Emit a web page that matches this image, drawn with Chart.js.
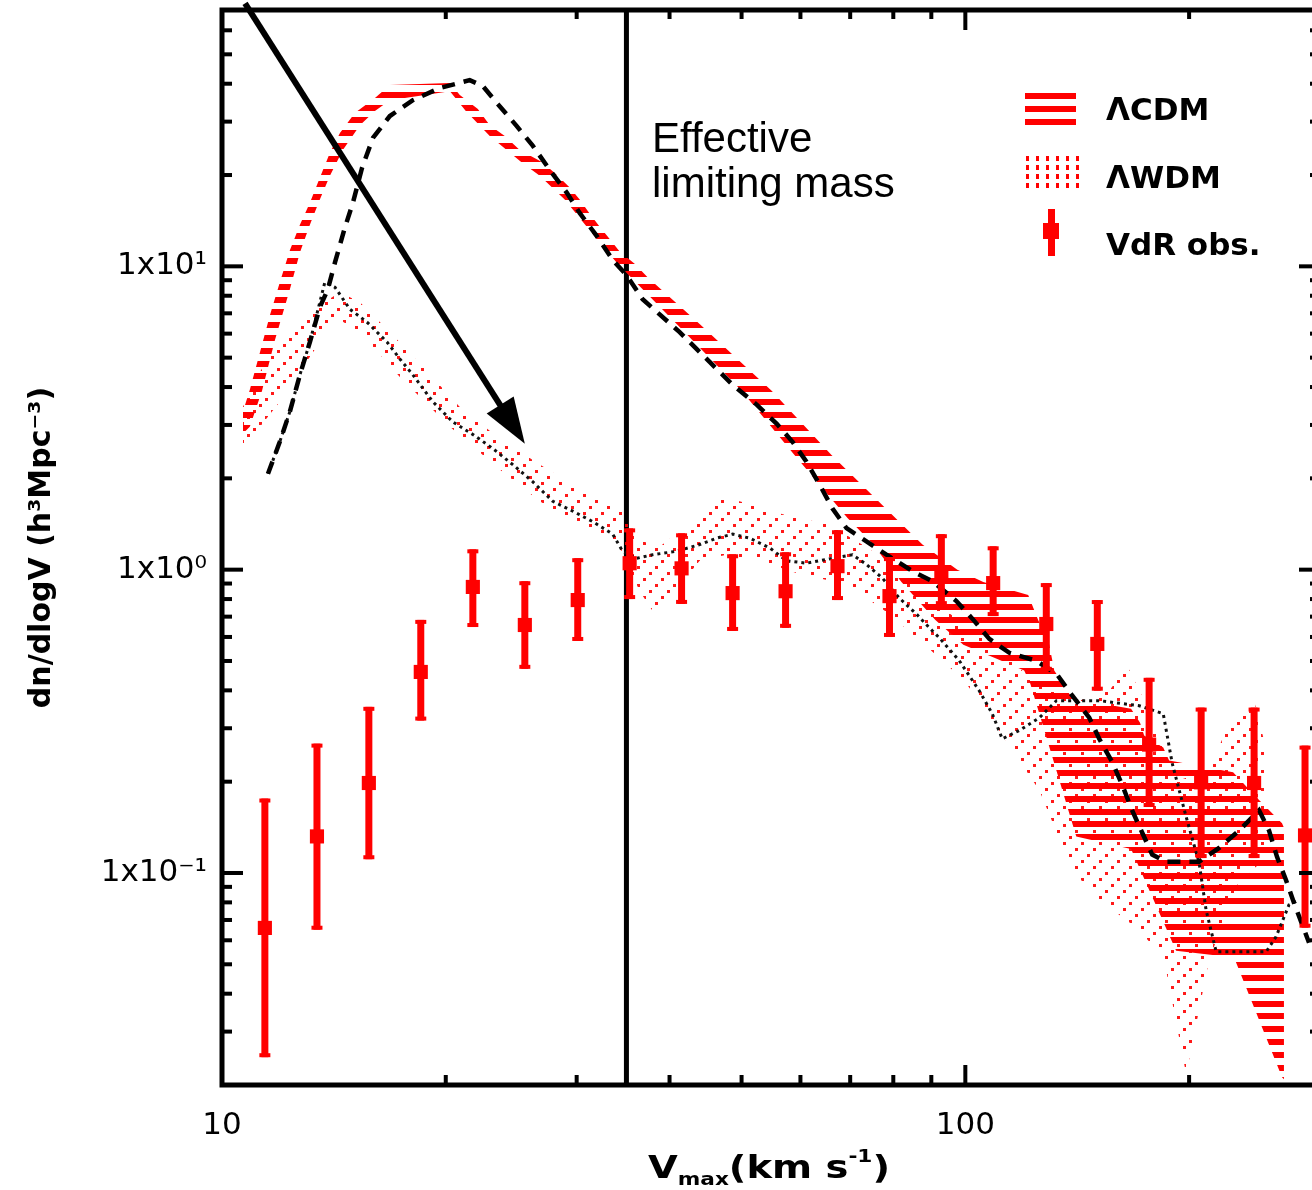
<!DOCTYPE html>
<html>
<head>
<meta charset="utf-8">
<script src="https://cdn.jsdelivr.net/npm/chart.js@4.4.0/dist/chart.umd.min.js"></script>
<style>
html, body { margin:0; padding:0; background:#fff; overflow:hidden; }
#caixa { width:1312px; height:1190px; overflow:hidden; }
</style>
</head>
<body>
<div id="caixa"><canvas id="grafico" width="1330" height="1190"></canvas></div>
<script>
// ---- dados (V em km/s, n em h^3 Mpc^-3) ----

// faixa LCDM (limite superior e inferior)
var cdmSupV = [10.67,10.90,11.25,11.60,11.96,12.34,12.73,13.13,13.54,13.97,14.41,15.09,16.06,16.82,20.26,20.89,22.09,22.92,24.01,25.15,27.01,28.29,29.36,30.28,31.24,32.22,33.23,34.27,35.9,37.37,43.91,54.88,66.06,80.53,87.55,97.55,105.7,121.5,125.3,129.7,131.7,139.3,167.1,171.8,174.0,184.6,188.0,229.2,246.1,266.7,268.3];
var cdmSupN = [3.32,3.92,5.22,6.90,8.85,11.3,13.7,16.2,19.6,23.7,27.5,32.0,35.9,39.6,40.2,36.7,33.0,29.2,26.9,24.2,22.0,19.9,18.2,16.6,14.9,13.5,12.3,11.2,10.2,9.20,6.45,3.89,2.39,1.48,1.21,1.00,0.910,0.825,0.683,0.565,0.465,0.376,0.348,0.313,0.284,0.259,0.235,0.215,0.178,0.146,0.141];
var cdmInfV = [10.67,10.90,11.32,11.78,12.34,12.73,13.13,13.54,13.97,14.54,15.33,16.06,16.82,20.26,21.28,22.92,25.31,26.76,28.91,31.92,34.06,41.27,50.00,58.90,69.42,74.99,82.04,91.13,99.38,110.4,120.0,122.3,141.0,167.1,192.1,229.9,266.7,268.3];
var cdmInfN = [2.81,2.96,3.89,5.71,8.40,11.1,13.7,16.6,19.9,24.2,29.2,32.5,35.3,37.8,32.5,26.9,22.0,19.9,16.6,12.3,10.2,6.31,3.89,2.39,1.48,1.22,0.910,0.683,0.565,0.508,0.465,0.421,0.132,0.120,0.0554,0.0526,0.0212,0.0209];

// faixa LWDM
var wdmSupV = [10.67,11.25,11.96,12.73,13.54,14.41,15.33,16.82,18.46,20.89,23.64,26.76,30.28,34.27,36.80,38.79,42.56,46.71,49.69,58.00,65.65,68.78,74.30,86.75,98.15,111.1,125.8,142.3,156.2,165.1,176.7,193.9,212.8,228.5,244.6,252.3];
var wdmSupN = [3.44,4.49,5.63,6.55,7.45,8.22,7.62,6.07,4.77,3.44,2.70,2.22,1.84,1.62,1.24,1.19,1.42,1.72,1.68,1.50,1.41,1.31,1.17,0.850,0.678,0.540,0.414,0.370,0.399,0.482,0.343,0.202,0.218,0.330,0.370,0.273];
var wdmInfV = [10.67,11.25,11.96,12.73,13.54,14.41,15.33,17.35,20.26,23.64,26.76,30.28,34.27,36.46,38.19,40.38,43.91,47.73,52.88,59.82,69.21,79.04,89.46,99.70,111.1,125.8,139.3,151.4,171.4,185.1,198.2,212.8,233.5,252.3];
var wdmInfN = [2.51,2.96,3.58,4.49,5.63,6.65,6.07,4.32,2.96,2.14,1.68,1.39,1.19,0.850,0.714,0.831,1.07,1.12,1.07,0.967,0.896,0.714,0.548,0.430,0.295,0.187,0.102,0.0815,0.0650,0.0518,0.0217,0.0518,0.0948,0.110];

// curva preta tracejada (CDM)
var tracoV = [11.53,11.96,12.34,12.73,13.13,13.54,13.88,14.19,14.63,15.00,15.43,15.96,16.82,18.06,19.63,21.54,22.43,23.42,24.92,26.18,27.60,29.09,30.28,31.92,33.54,35.03,36.80,41.27,45.29,48.62,52.39,55.72,58.54,61.13,63.65,66.27,69.21,73.61,78.31,84.89,90.29,97.26,102.8,107.7,114.6,124.5,132.6,139.3,146.8,151.4,157.6,162.6,167.6,172.9,178.4,186.3,206.3,219.5,233.5,248.4,256.2,262.6,270.0,276.8,290.0];
var tracoN = [2.07,2.64,3.32,4.39,5.63,7.33,8.40,10.3,13.4,16.2,21.1,26.5,31.3,35.3,38.7,41.1,39.3,34.6,29.0,25.0,20.8,17.5,15.0,12.6,10.5,9.34,7.79,6.07,4.84,4.07,3.50,3.03,2.64,2.27,1.91,1.59,1.37,1.24,1.12,0.989,0.916,0.788,0.678,0.591,0.532,0.501,0.454,0.384,0.325,0.277,0.232,0.195,0.161,0.136,0.115,0.109,0.109,0.121,0.138,0.161,0.138,0.113,0.0948,0.0797,0.0589];

// curva preta pontilhada (WDM)
var pontoV = [11.53,11.96,12.34,12.73,13.13,13.54,13.75,14.19,14.86,15.67,16.67,17.35,18.06,19.21,20.44,21.75,23.13,24.61,26.18,27.86,29.64,31.53,33.54,34.59,36.13,37.96,40.90,43.91,46.28,48.62,51.27,54.55,57.46,61.13,66.27,70.49,73.61,77.34,81.52,85.94,89.46,92.28,98.15,104.4,108.7,112.1,118.2,125.8,132.6,151.4,171.4,184.6,189.8,198.2,206.3,210.8,217.5,253.9,261.8,272.5,281.1];
var pontoN = [2.07,2.64,3.32,4.39,5.63,7.62,8.85,8.53,7.22,6.55,5.63,4.95,4.39,3.58,3.07,2.79,2.51,2.22,1.95,1.68,1.56,1.44,1.31,1.15,1.09,1.12,1.15,1.21,1.27,1.31,1.27,1.18,1.07,1.05,1.09,1.12,1.04,0.938,0.806,0.714,0.643,0.596,0.501,0.399,0.335,0.277,0.295,0.325,0.370,0.370,0.356,0.335,0.230,0.153,0.108,0.0755,0.0550,0.0550,0.0616,0.0785,0.0815];

// observacoes VdR com barras de erro
var obsV  = [11.42,13.42,15.76,18.51,21.75,25.55,30.10,35.35,41.52,48.63,57.30,67.30,79.06,92.84,109.0,128.5,150.5,176.7,207.6,244.6,286.4];
var obsN  = [0.0659,0.132,0.198,0.460,0.877,0.657,0.794,1.05,1.01,0.837,0.849,1.027,0.818,0.959,0.903,0.662,0.569,0.265,0.199,0.198,0.133];
var obsAl = [0.176,0.267,0.353,0.683,1.167,0.916,1.091,1.368,1.318,1.124,1.141,1.349,1.10,1.309,1.194,0.903,0.794,0.440,0.351,0.351,0.263];
var obsBx = [0.0247,0.065,0.111,0.318,0.647,0.471,0.582,0.80,0.771,0.628,0.643,0.794,0.600,0.764,0.703,0.464,0.399,0.165,0.112,0.112,0.066];

// linha vertical da massa limite e seta
var limiteV = 35.0;
var setaIni = [10.74, 73.6];
var setaFim = [25.55, 2.60];

// eixos
var xMin = 10, xMax = 300, yMin = 0.02, yMax = 70;
var xMaiores = [10, 100];
var xRotulos = ['10', '100'];
var xMenores = [20,30,40,50,60,70,80,90,200];
var yMaiores = [0.1, 1, 10];
var yRotulos = ['1x10\u207B\u00B9', '1x10\u2070', '1x10\u00B9'];
var yMenores = [0.02,0.03,0.04,0.05,0.06,0.07,0.08,0.09,0.2,0.3,0.4,0.5,0.6,0.7,0.8,0.9,2,3,4,5,6,7,8,9,20,30,40,50,60];

var VERMELHO = '#ff0000';
var FONTE = '"DejaVu Sans", sans-serif';

function pontos(xs, ys){
  var lista = [];
  for (var i = 0; i < xs.length; i++){
    lista.push({x: xs[i], y: ys[i]});
  }
  return lista;
}

var ctxPrincipal = document.getElementById('grafico').getContext('2d');

// hachura horizontal (LCDM)
function padraoCDM(){
  var c = document.createElement('canvas');
  c.width = 8; c.height = 64;
  var g = c.getContext('2d');
  g.fillStyle = VERMELHO;
  for (var k = 0; k < 5; k++){
    g.fillRect(0, Math.round(2.2 + 12.8 * k), 8, 6);
  }
  return ctxPrincipal.createPattern(c, 'repeat');
}

// hachura pontilhada diagonal (LWDM)
function padraoWDM(){
  var c = document.createElement('canvas');
  c.width = 18; c.height = 18;
  var g = c.getContext('2d');
  g.fillStyle = 'rgba(255,0,0,0.9)';
  g.fillRect(1, 14, 3, 3);
  g.fillRect(7, 8, 3, 3);
  g.fillRect(13, 2, 3, 3);
  return ctxPrincipal.createPattern(c, 'repeat');
}

function indiceDe(lista, v){
  for (var i = 0; i < lista.length; i++){
    if (Math.abs(lista[i] - v) < 1e-9 * Math.max(1, v)) return i;
  }
  return -1;
}

var extras = {
  id: 'extras',
  afterDatasetsDraw: function(chart){
    var ctx = chart.ctx, sx = chart.scales.x, sy = chart.scales.y;
    ctx.save();
    ctx.fillStyle = VERMELHO;
    for (var i = 0; i < obsV.length; i++){
      var px = sx.getPixelForValue(obsV[i]);
      var pa = sy.getPixelForValue(obsAl[i]);
      var pb = sy.getPixelForValue(obsBx[i]);
      ctx.fillRect(px - 3.5, pa, 7, pb - pa);
      ctx.fillRect(px - 5.5, pa, 11, 4);
      ctx.fillRect(px - 5.5, pb - 4, 11, 4);
    }
    ctx.restore();
  },
  afterDraw: function(chart){
    var ctx = chart.ctx, a = chart.chartArea, sx = chart.scales.x, sy = chart.scales.y;
    var i, p;
    ctx.save();

    // moldura
    ctx.strokeStyle = '#000';
    ctx.lineWidth = 5;
    ctx.strokeRect(a.left, a.top, a.right - a.left, a.bottom - a.top);

    // marcas dos eixos, para dentro
    ctx.fillStyle = '#000';
    for (i = 0; i < yMaiores.length; i++){
      p = sy.getPixelForValue(yMaiores[i]);
      ctx.fillRect(a.left, p - 2, 21, 4);
      ctx.fillRect(a.right - 21, p - 2, 21, 4);
    }
    for (i = 0; i < yMenores.length; i++){
      p = sy.getPixelForValue(yMenores[i]);
      ctx.fillRect(a.left, p - 2, 10, 4);
      ctx.fillRect(a.right - 10, p - 2, 10, 4);
    }
    for (i = 0; i < xMaiores.length; i++){
      p = sx.getPixelForValue(xMaiores[i]);
      ctx.fillRect(p - 2, a.bottom - 20, 4, 20);
      ctx.fillRect(p - 2, a.top, 4, 20);
    }
    for (i = 0; i < xMenores.length; i++){
      p = sx.getPixelForValue(xMenores[i]);
      ctx.fillRect(p - 2, a.bottom - 10, 4, 10);
      ctx.fillRect(p - 2, a.top, 4, 9);
    }

    // titulo do eixo x com subscrito e expoente
    var partes = [
      {t: 'V', f: 'bold 32px ' + FONTE, dy: 0},
      {t: 'max', f: 'bold 18px ' + FONTE, dy: 7},
      {t: '(km s', f: 'bold 32px ' + FONTE, dy: 0},
      {t: '-1', f: 'bold 18px ' + FONTE, dy: -16},
      {t: ')', f: 'bold 32px ' + FONTE, dy: 0}
    ];
    var total = 0;
    for (i = 0; i < partes.length; i++){
      ctx.font = partes[i].f;
      partes[i].w = ctx.measureText(partes[i].t).width;
      total += partes[i].w;
    }
    var larguraAlvo = 242;
    var esc = larguraAlvo / total;
    ctx.save();
    ctx.translate(769 - larguraAlvo / 2, 1178);
    ctx.scale(esc, 1);
    ctx.textBaseline = 'alphabetic';
    var cx = 0;
    for (i = 0; i < partes.length; i++){
      ctx.font = partes[i].f;
      ctx.fillText(partes[i].t, cx, partes[i].dy);
      cx += partes[i].w;
    }
    ctx.restore();

    // texto da massa limite
    ctx.fillStyle = '#000';
    ctx.font = '42px "Liberation Sans", Arial, sans-serif';
    ctx.textBaseline = 'alphabetic';
    ctx.fillText('Effective', 652, 152);
    ctx.fillText('limiting mass', 652, 197);

    // legenda
    ctx.fillStyle = VERMELHO;
    for (i = 0; i < 3; i++) ctx.fillRect(1025, 93 + 13 * i, 51, 6);
    for (var c = 0; c < 6; c++){
      for (var r = 0; r < 4; r++){
        ctx.fillRect(1026 + 10 * c, 156 + 9 * r, 3, 5);
      }
    }
    ctx.fillRect(1048, 209, 7, 47);
    ctx.fillRect(1043, 223, 16, 16);
    ctx.fillStyle = '#000';
    ctx.font = 'bold 31px ' + FONTE;
    ctx.fillText('\u039BCDM', 1106, 120);
    ctx.fillText('\u039BWDM', 1106, 188);
    ctx.fillText('VdR obs.', 1106, 255);

    // seta
    var x0 = sx.getPixelForValue(setaIni[0]), y0 = sy.getPixelForValue(setaIni[1]);
    var x1 = sx.getPixelForValue(setaFim[0]), y1 = sy.getPixelForValue(setaFim[1]);
    var dx = x1 - x0, dy = y1 - y0, len = Math.sqrt(dx * dx + dy * dy);
    var ux = dx / len, uy = dy / len;
    var cab = 46, meia = 16;
    ctx.strokeStyle = '#000';
    ctx.lineWidth = 6;
    ctx.beginPath();
    ctx.moveTo(x0, y0);
    ctx.lineTo(x1 - ux * (cab - 4), y1 - uy * (cab - 4));
    ctx.stroke();
    ctx.beginPath();
    ctx.moveTo(x1, y1);
    ctx.lineTo(x1 - ux * cab - uy * meia, y1 - uy * cab + ux * meia);
    ctx.lineTo(x1 - ux * cab + uy * meia, y1 - uy * cab - ux * meia);
    ctx.closePath();
    ctx.fill();

    ctx.restore();
  }
};

var semLinha = 'rgba(0,0,0,0)';

var config = {
  type: 'scatter',
  data: {
    datasets: [
      { label: 'limite', data: [{x: limiteV, y: yMin}, {x: limiteV, y: yMax}], showLine: true,
        borderColor: '#000', borderWidth: 5, pointRadius: 0, order: 10 },
      { label: 'WDM sup', data: pontos(wdmSupV, wdmSupN), showLine: true, borderColor: semLinha, borderWidth: 0,
        pointRadius: 0, fill: 2, backgroundColor: padraoWDM(), order: 9 },
      { label: 'WDM inf', data: pontos(wdmInfV, wdmInfN), showLine: true, borderColor: semLinha, borderWidth: 0,
        pointRadius: 0, fill: false, order: 9 },
      { label: 'CDM sup', data: pontos(cdmSupV, cdmSupN), showLine: true, borderColor: semLinha, borderWidth: 0,
        pointRadius: 0, fill: 4, backgroundColor: padraoCDM(), order: 8 },
      { label: 'CDM inf', data: pontos(cdmInfV, cdmInfN), showLine: true, borderColor: semLinha, borderWidth: 0,
        pointRadius: 0, fill: false, order: 8 },
      { label: 'WDM med', data: pontos(pontoV, pontoN), showLine: true, borderColor: '#111', borderWidth: 3,
        borderDash: [3, 4], pointRadius: 0, fill: false, order: 6 },
      { label: 'CDM med', data: pontos(tracoV, tracoN), showLine: true, borderColor: '#000', borderWidth: 4.5,
        borderDash: [13, 9], pointRadius: 0, fill: false, order: 5 },
      { label: 'VdR obs.', data: pontos(obsV, obsN), showLine: false, pointStyle: 'rect', pointRadius: 10,
        backgroundColor: VERMELHO, borderColor: VERMELHO, borderWidth: 0, order: 1 }
    ]
  },
  options: {
    responsive: false,
    animation: false,
    devicePixelRatio: 1,
    layout: { padding: { top: 7, right: 10, left: 0, bottom: 0 } },
    plugins: { legend: { display: false }, tooltip: { enabled: false } },
    elements: { line: { tension: 0 } },
    scales: {
      x: {
        type: 'logarithmic', min: xMin, max: xMax,
        grid: { display: false, drawTicks: false },
        border: { display: false },
        afterFit: function(s){ s.height = 105; s.paddingLeft = 0; s.paddingRight = 0; },
        afterBuildTicks: function(s){ s.ticks = xMaiores.map(function(v){ return {value: v}; }); },
        ticks: {
          autoSkip: false, maxRotation: 0, padding: 22, color: '#000',
          font: { family: FONTE, size: 31 },
          callback: function(v){ var k = indiceDe(xMaiores, v); return k < 0 ? '' : xRotulos[k]; }
        },
        title: { display: false }
      },
      y: {
        type: 'logarithmic', min: yMin, max: yMax,
        grid: { display: false, drawTicks: false },
        border: { display: false },
        afterFit: function(s){ s.width = 222; s.paddingTop = 0; s.paddingBottom = 0; },
        afterBuildTicks: function(s){ s.ticks = yMaiores.map(function(v){ return {value: v}; }); },
        ticks: {
          autoSkip: false, padding: 15, color: '#000',
          font: { family: FONTE, size: 31 },
          callback: function(v){ var k = indiceDe(yMaiores, v); return k < 0 ? '' : yRotulos[k]; }
        },
        title: {
          display: true, text: 'dn/dlogV (h\u00B3Mpc\u207B\u00B3)', color: '#000',
          font: { family: FONTE, size: 30, weight: 'bold' },
          padding: { top: 24, bottom: 0 }
        }
      }
    }
  },
  plugins: [extras]
};

var grafico = new Chart(ctxPrincipal, config);
</script>
</body>
</html>
